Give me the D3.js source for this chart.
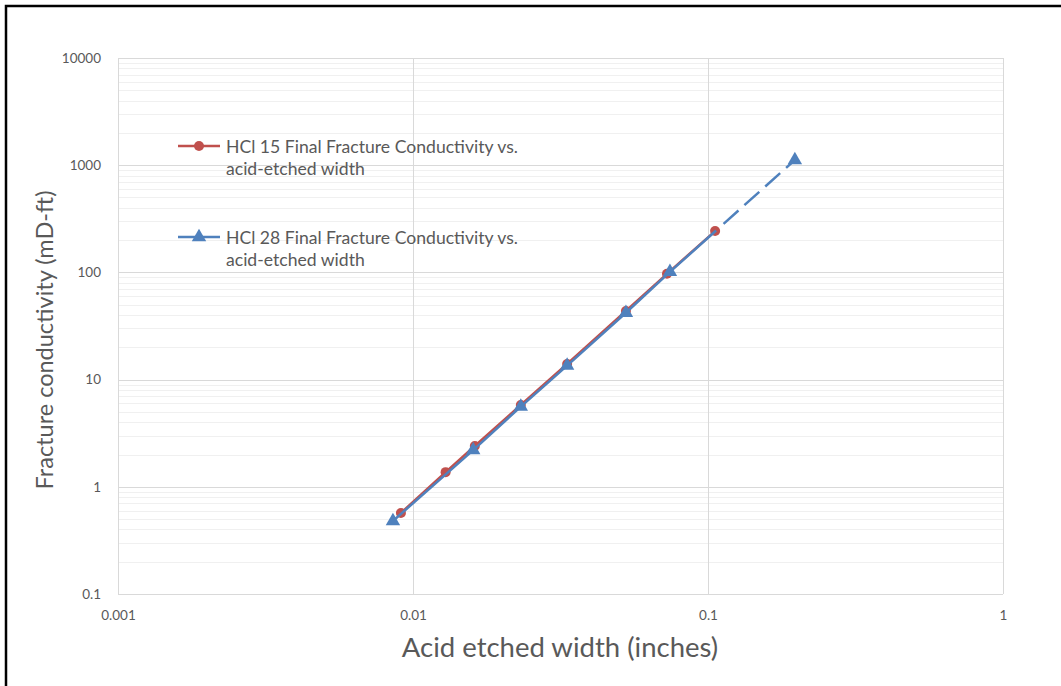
<!DOCTYPE html>
<html>
<head>
<meta charset="utf-8">
<script src="https://cdn.jsdelivr.net/npm/d3@7"></script>
<style>
  body { margin: 0; background: #fff; }
  text { font-family: Lato, "Open Sans", sans-serif; fill: #595959; }
</style>
</head>
<body>
<div id="chart"></div>
<script>
// HCl 15 (red circles)
const hcl15Width = [0.0091, 0.0129, 0.0162, 0.0232, 0.0333, 0.0527, 0.0726, 0.1057];
const hcl15Cond  = [0.57, 1.37, 2.40, 5.8, 14.0, 43.6, 97, 243];
// HCl 28 (blue triangles)
const hcl28Width = [0.00855, 0.0160, 0.0232, 0.0333, 0.0527, 0.0743, 0.197];
const hcl28Cond  = [0.48, 2.2, 5.6, 13.5, 42, 101, 1119];

const xTicks = [0.001, 0.01, 0.1, 1];
const yTicks = [0.1, 1, 10, 100, 1000, 10000];
const seriesNames = [
  ["HCl 15 Final Fracture Conductivity vs.", "acid-etched width"],
  ["HCl 28 Final Fracture Conductivity vs.", "acid-etched width"]
];

const width = 1061, height = 686;
const red = "#C0504D", blue = "#4F81BD";
const plot = {left: 118, right: 1003, top: 58, bottom: 594};

const svg = d3.select("#chart").append("svg")
  .attr("width", width).attr("height", height);

// outer frame (right/bottom edges fall outside the picture)
svg.append("rect")
  .attr("x", 6).attr("y", 6).attr("width", 1080).attr("height", 700)
  .attr("fill", "none").attr("stroke", "#000").attr("stroke-width", 2.5);

const x = d3.scaleLog().domain([0.001, 1]).range([plot.left, plot.right]);
const y = d3.scaleLog().domain([0.1, 10000]).range([plot.bottom, plot.top]);

// minor horizontal gridlines
const minorY = [];
yTicks.slice(0, -1).forEach(t => { for (let k = 2; k <= 9; k++) minorY.push(t * k); });
svg.append("g").selectAll("line").data(minorY).enter().append("line")
  .attr("x1", plot.left).attr("x2", plot.right)
  .attr("y1", d => Math.round(y(d)) + 0.5).attr("y2", d => Math.round(y(d)) + 0.5)
  .attr("stroke", "#f0f0f0").attr("stroke-width", 1);

// major gridlines
svg.append("g").selectAll("line").data(yTicks).enter().append("line")
  .attr("x1", plot.left).attr("x2", plot.right)
  .attr("y1", d => Math.round(y(d)) + 0.5).attr("y2", d => Math.round(y(d)) + 0.5)
  .attr("stroke", "#d9d9d9").attr("stroke-width", 1);
svg.append("g").selectAll("line").data(xTicks).enter().append("line")
  .attr("y1", plot.top).attr("y2", plot.bottom)
  .attr("x1", d => Math.round(x(d)) + 0.5).attr("x2", d => Math.round(x(d)) + 0.5)
  .attr("stroke", "#d9d9d9").attr("stroke-width", 1);

// axes labels via d3 axes
const yAxis = svg.append("g")
  .attr("transform", `translate(${plot.left - 14},0)`)
  .call(d3.axisLeft(y).tickValues(yTicks).tickFormat(d => String(d)).tickSize(0));
yAxis.select(".domain").remove();
yAxis.selectAll("text").attr("font-size", 13.5).attr("dx", 0);

const xAxis = svg.append("g")
  .attr("transform", `translate(0,${plot.bottom + 13})`)
  .call(d3.axisBottom(x).tickValues(xTicks).tickFormat(d => String(d)).tickSize(0));
xAxis.select(".domain").remove();
xAxis.selectAll("text").attr("font-size", 13.5);
svg.selectAll(".tick text").style("font-family", "Lato, sans-serif").attr("fill", "#595959");

// axis titles
svg.append("text")
  .attr("x", 560).attr("y", 657)
  .attr("text-anchor", "middle").attr("font-size", 27.5)
  .text("Acid etched width (inches)");
svg.append("text")
  .attr("transform", "translate(53,340) rotate(-90)")
  .attr("text-anchor", "middle").attr("font-size", 23.5)
  .text("Fracture conductivity (mD-ft)");

const line = d3.line().x(d => x(d[0])).y(d => y(d[1]));
const red15 = hcl15Width.map((w, i) => [w, hcl15Cond[i]]);
const blue28 = hcl28Width.map((w, i) => [w, hcl28Cond[i]]);

// red series
svg.append("path").datum(red15)
  .attr("d", line).attr("fill", "none")
  .attr("stroke", red).attr("stroke-width", 2.5);
svg.append("g").selectAll("circle").data(red15).enter().append("circle")
  .attr("cx", d => x(d[0])).attr("cy", d => y(d[1])).attr("r", 5)
  .attr("fill", red);

// blue series: measured part solid, last segment dashed
const nb = blue28.length;
svg.append("path").datum(blue28.slice(0, nb - 1))
  .attr("d", line).attr("fill", "none")
  .attr("stroke", blue).attr("stroke-width", 2.5);
svg.append("path").datum(blue28.slice(nb - 2))
  .attr("d", line).attr("fill", "none")
  .attr("stroke", blue).attr("stroke-width", 2.5)
  .attr("stroke-dasharray", "62 10 20 8 20 8 20 8 20 8");

const tri = d3.symbol().type(d3.symbolTriangle).size(90);
svg.append("g").selectAll("path").data(blue28).enter().append("path")
  .attr("d", tri)
  .attr("transform", d => `translate(${x(d[0])},${y(d[1])})`)
  .attr("fill", blue);

// legend
const legendY = [146, 237];
const legendColors = [red, blue];
legendY.forEach((ly, i) => {
  const g = svg.append("g");
  g.append("line").attr("x1", 178).attr("x2", 220).attr("y1", ly).attr("y2", ly)
    .attr("stroke", legendColors[i]).attr("stroke-width", 2.5);
  if (i === 0) {
    g.append("circle").attr("cx", 199).attr("cy", ly).attr("r", 5).attr("fill", red);
  } else {
    g.append("path").attr("d", tri).attr("transform", `translate(199,${ly})`).attr("fill", blue);
  }
  seriesNames[i].forEach((s, j) => {
    g.append("text").attr("x", 226).attr("y", ly + 7 + j * 22)
      .attr("font-size", 17.6).text(s);
  });
});
</script>
</body>
</html>
